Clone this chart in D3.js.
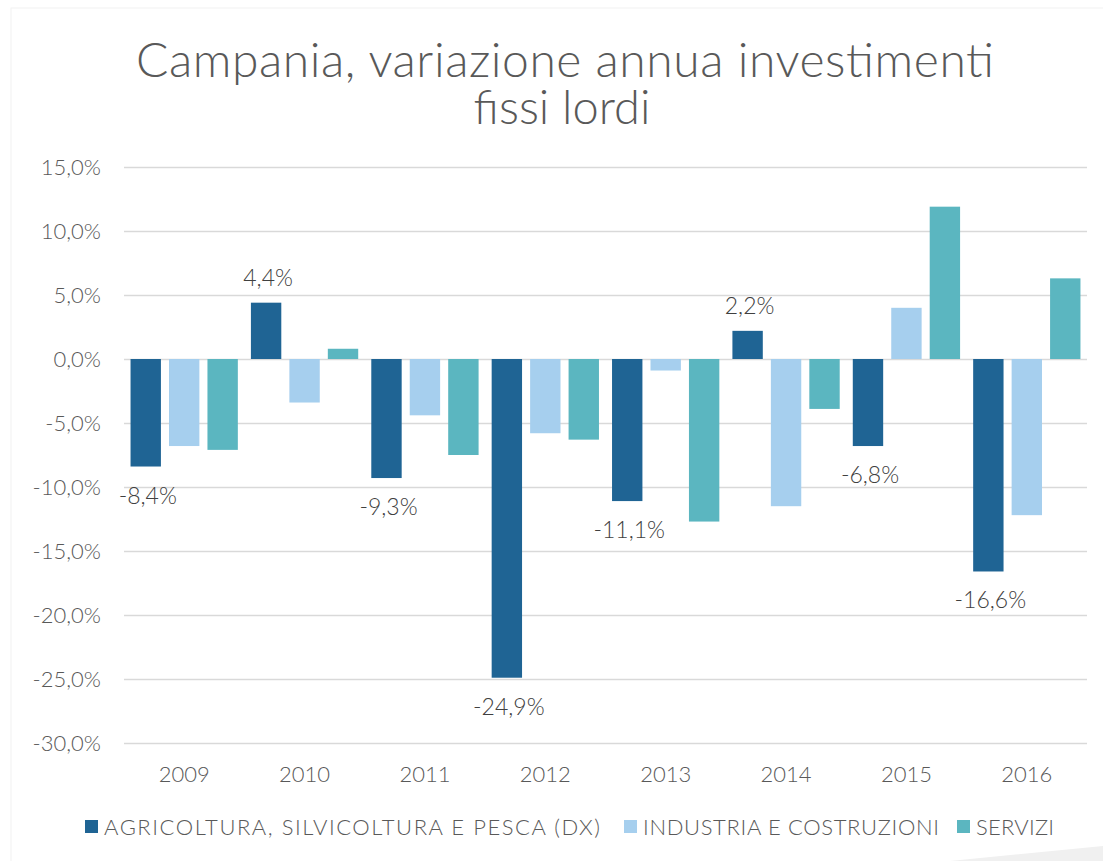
<!DOCTYPE html>
<html>
<head>
<meta charset="utf-8">
<script src="https://cdn.jsdelivr.net/npm/d3@7"></script>
<style>
  body { margin: 0; background: #fff; }
  svg text { font-family: "Century Gothic", Lato, sans-serif; font-weight: 300; }
</style>
</head>
<body>
<svg id="chart" width="1103" height="861"></svg>
<script>
// anni e serie (variazione % annua)
const years = ["2009", "2010", "2011", "2012", "2013", "2014", "2015", "2016"];
const seriesNames = ["AGRICOLTURA, SILVICOLTURA E PESCA (DX)", "INDUSTRIA E COSTRUZIONI", "SERVIZI"];
const agricoltura = [-8.4, 4.4, -9.3, -24.9, -11.1, 2.2, -6.8, -16.6];
const industria = [-6.8, -3.4, -4.4, -5.8, -0.9, -11.5, 4.0, -12.2];
const servizi = [-7.1, 0.8, -7.5, -6.3, -12.7, -3.9, 11.9, 6.3];
const yTicks = [-30, -25, -20, -15, -10, -5, 0, 5, 10, 15];
const colors = ["#1f6494", "#a6cfee", "#5bb6c0"];

const svg = d3.select("#chart");
const margin = {top: 167, left: 124, right: 16, bottom: 118};
const width = 1103 - margin.left - margin.right,
      height = 861 - margin.top - margin.bottom;

const it = d3.formatLocale({decimal: ",", thousands: ".", grouping: [3], currency: ["€", ""], minus: "-"});
const pct = v => it.format(".1f")(v) + "%";

// sfondo: cornice chiara e forma in basso a destra
svg.append("rect").attr("x", 11).attr("y", 8).attr("width", 1100).attr("height", 860)
    .attr("fill", "none").attr("stroke", "#f2f2f2").attr("stroke-width", 1);
svg.append("path").attr("d", "M950,861 L1103,846 L1103,861 Z").attr("fill", "#f0f0f0");

const g = svg.append("g").attr("transform", `translate(${margin.left},${margin.top})`);

const y = d3.scaleLinear().domain([-30, 15]).range([height, 0]);
const x0 = d3.scaleBand().domain(years).range([0, width]);
const x1 = d3.scaleBand().domain(d3.range(3)).range([0, x0.bandwidth()])
    .paddingInner(0.21).paddingOuter(0.17);

// griglia e asse y
const yAxis = g.append("g")
    .call(d3.axisLeft(y).tickValues(yTicks).tickSize(-width).tickFormat(pct).tickPadding(23));
yAxis.select(".domain").remove();
yAxis.selectAll("line").attr("stroke", "#d9d9d9").attr("stroke-width", 1.4);
yAxis.selectAll("text").attr("fill", "#595959").style("font-size", "22px");

// etichette anni
g.append("g").selectAll("text")
    .data(years).enter().append("text")
    .attr("x", d => x0(d) + x0.bandwidth() / 2)
    .attr("y", height + 39)
    .attr("text-anchor", "middle")
    .attr("fill", "#595959")
    .style("font-size", "22px")
    .text(d => d);

const rows = years.map((yr, i) => ({year: yr, values: [agricoltura[i], industria[i], servizi[i]]}));

const groups = g.selectAll(".year").data(rows).enter().append("g")
    .attr("class", "year")
    .attr("transform", d => `translate(${x0(d.year)},0)`);

groups.selectAll("rect")
    .data(d => d.values.map((v, s) => ({v, s})))
    .enter().append("rect")
    .attr("x", d => x1(d.s))
    .attr("width", x1.bandwidth())
    .attr("y", d => y(Math.max(0, d.v)))
    .attr("height", d => Math.abs(y(d.v) - y(0)))
    .attr("fill", d => colors[d.s]);

// etichette dati solo per agricoltura
groups.append("text")
    .attr("x", x1(0) + x1.bandwidth() / 2 + 2)
    .attr("y", d => d.values[0] < 0 ? y(d.values[0]) + 37 : y(d.values[0]) - 17)
    .attr("text-anchor", "middle")
    .attr("fill", "#404040")
    .style("font-size", "23px")
    .text(d => pct(d.values[0]));

// titolo
svg.append("text")
    .attr("x", 565).attr("y", 77)
    .attr("text-anchor", "middle")
    .attr("fill", "#595959")
    .style("font-size", "48px")
    .attr("textLength", 858)
    .attr("lengthAdjust", "spacing")
    .text("Campania, variazione annua investimenti");
svg.append("text")
    .attr("x", 562).attr("y", 124)
    .attr("text-anchor", "middle")
    .attr("fill", "#595959")
    .style("font-size", "47px")
    .text("fissi lordi");

// legenda
const legendX = [85, 624, 957];
const legendW = [496, 296, 78];
const legend = svg.append("g").selectAll("g")
    .data(seriesNames).enter().append("g")
    .attr("transform", (d, i) => `translate(${legendX[i]},820)`);
legend.append("rect").attr("width", 13).attr("height", 13).attr("fill", (d, i) => colors[i]);
legend.append("text")
    .attr("x", 19).attr("y", 14.5)
    .attr("fill", "#595959")
    .style("font-size", "22px")
    .attr("textLength", (d, i) => legendW[i])
    .attr("lengthAdjust", "spacing")
    .text(d => d);
</script>
</body>
</html>
